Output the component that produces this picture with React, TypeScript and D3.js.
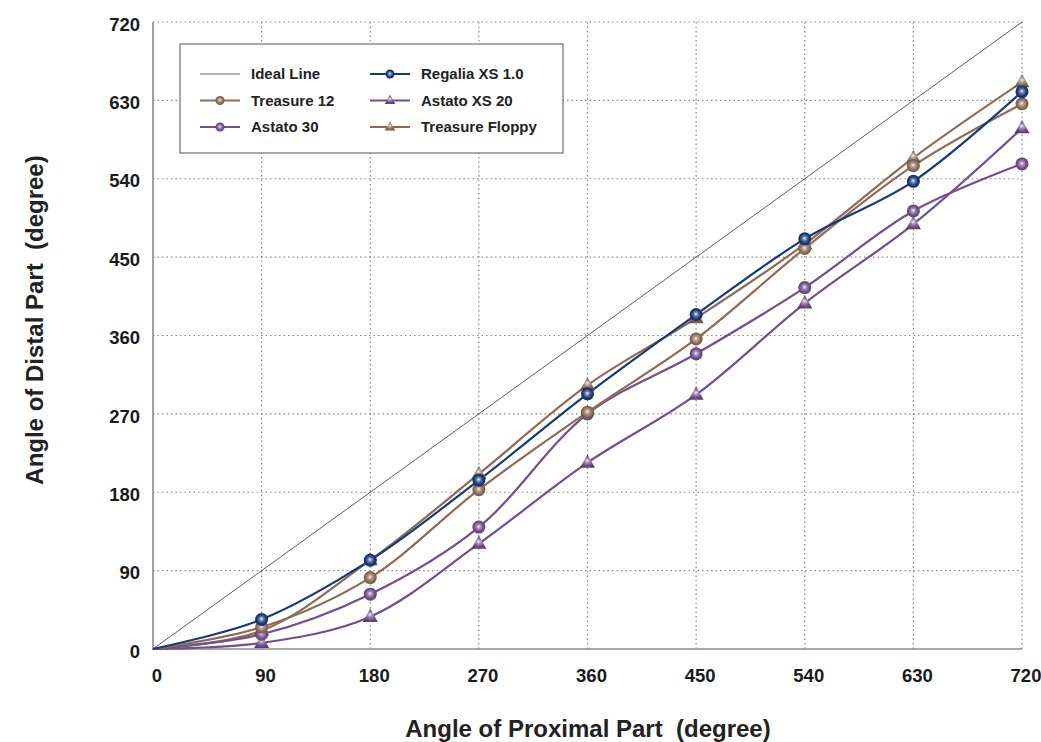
import React from "react";
import * as d3 from "d3";

const xTicks = [0, 90, 180, 270, 360, 450, 540, 630, 720];
const yTicks = [0, 90, 180, 270, 360, 450, 540, 630, 720];
const proximal = [0, 90, 180, 270, 360, 450, 540, 630, 720];

const idealLine = [0, 720];
const regalia = [0, 34, 102, 194, 293, 384, 471, 537, 640];
const treasure12 = [0, 25, 82, 183, 272, 356, 460, 555, 626];
const astato30 = [0, 17, 63, 140, 270, 339, 415, 503, 557];
const astatoXS20 = [0, 7, 37, 121, 214, 292, 397, 488, 598];
const treasureFloppy = [0, 21, 102, 201, 303, 380, 465, 564, 651];

const NAVY = "#17397a";
const BROWN = "#8d6c56";
const PURPLE = "#71508b";

type S = { name: string; values: number[]; color: string; marker: "circle" | "triangle"; grad: string };
const series: S[] = [
  { name: "Treasure Floppy", values: treasureFloppy, color: BROWN, marker: "triangle", grad: "gBrown" },
  { name: "Astato XS 20", values: astatoXS20, color: PURPLE, marker: "triangle", grad: "gPurple" },
  { name: "Astato 30", values: astato30, color: PURPLE, marker: "circle", grad: "gPurple" },
  { name: "Treasure 12", values: treasure12, color: BROWN, marker: "circle", grad: "gBrown" },
  { name: "Regalia XS 1.0", values: regalia, color: NAVY, marker: "circle", grad: "gNavy" },
];

const legendItems: { name: string; color: string; marker: "none" | "circle" | "triangle"; grad: string }[] = [
  { name: "Ideal Line", color: "#333", marker: "none", grad: "" },
  { name: "Treasure 12", color: BROWN, marker: "circle", grad: "gBrown" },
  { name: "Astato 30", color: PURPLE, marker: "circle", grad: "gPurple" },
  { name: "Regalia XS 1.0", color: NAVY, marker: "circle", grad: "gNavy" },
  { name: "Astato XS 20", color: PURPLE, marker: "triangle", grad: "gPurple" },
  { name: "Treasure Floppy", color: BROWN, marker: "triangle", grad: "gBrown" },
];

const W = 1041, H = 742;
const font = "'Liberation Sans', Arial, Helvetica, sans-serif";

function Marker({ x, y, kind, grad, r = 6.5 }: { x: number; y: number; kind: string; grad: string; r?: number }) {
  if (kind === "circle") return <circle cx={x} cy={y} r={r} fill={`url(#${grad})`} />;
  if (kind === "triangle") {
    const s = r * 1.05;
    const p = `${x},${y - s * 1.2} ${x + s * 1.1},${y + s * 0.75} ${x - s * 1.1},${y + s * 0.75}`;
    return <polygon points={p} fill={`url(#${grad})`} />;
  }
  return null;
}

export default function App() {
  const x = d3.scaleLinear().domain([0, 720]).range([153, 1022]);
  const y = d3.scaleLinear().domain([0, 720]).range([649, 22]);
  const line = d3
    .line<number>()
    .x((_, i) => x(proximal[i]))
    .y((d) => y(d))
    .curve(d3.curveCatmullRom.alpha(0.5));

  const grads = [
    { id: "gNavy", c: NAVY },
    { id: "gBrown", c: BROWN },
    { id: "gPurple", c: PURPLE },
  ];

  return (
    <svg width={W} height={H} style={{ position: "absolute", left: 0, top: 0 }} fontFamily={font}>
      <defs>
        {grads.map((g) => (
          <radialGradient key={g.id} id={g.id} cx="50%" cy="50%" r="55%" fx="48%" fy="45%">
            <stop offset="0%" stopColor="#f4eef6" />
            <stop offset="30%" stopColor={d3.interpolateRgb(g.c, "#fff")(0.35)} />
            <stop offset="65%" stopColor={g.c} />
            <stop offset="100%" stopColor={d3.color(g.c)!.darker(0.8).toString()} />
          </radialGradient>
        ))}
      </defs>
      <rect width={W} height={H} fill="#fff" />
      {/* grid */}
      {xTicks.slice(1).map((t) => (
        <line key={"gx" + t} x1={x(t)} x2={x(t)} y1={y(0)} y2={y(720)} stroke="#888" strokeWidth={1.2} strokeDasharray="1.5,3" />
      ))}
      {yTicks.slice(1).map((t) => (
        <line key={"gy" + t} x1={x(0)} x2={x(720)} y1={y(t)} y2={y(t)} stroke="#888" strokeWidth={1.2} strokeDasharray="1.5,3" />
      ))}
      {/* axes */}
      <line x1={x(0)} x2={x(0)} y1={y(0) + 1} y2={y(720)} stroke="#8a8a8a" strokeWidth={1.6} />
      <line x1={x(0)} x2={x(720)} y1={y(0)} y2={y(0)} stroke="#8a8a8a" strokeWidth={1.6} />
      {/* tick labels */}
      {yTicks.map((t) => (
        <text key={"yt" + t} x={140} y={y(t) + 2} dy="0.36em" textAnchor="end" fontSize={18.5} fontWeight="bold" fill="#1a1a1a">
          {t}
        </text>
      ))}
      {xTicks.map((t) => (
        <text key={"xt" + t} x={x(t) + 4} y={682} textAnchor="middle" fontSize={18.5} fontWeight="bold" fill="#1a1a1a">
          {t}
        </text>
      ))}
      {/* axis titles */}
      <text x={588} y={737} textAnchor="middle" fontSize={24} fontWeight="bold" fill="#222">
        Angle of Proximal Part{"\u00a0\u00a0"}(degree)
      </text>
      <text transform={`translate(43,320) rotate(-90)`} textAnchor="middle" fontSize={24} fontWeight="bold" fill="#222">
        Angle of Distal Part{"\u00a0\u00a0"}(degree)
      </text>
      {/* ideal line */}
      <line x1={x(idealLine[0])} y1={y(idealLine[0])} x2={x(idealLine[1])} y2={y(idealLine[1])} stroke="#333" strokeWidth={0.8} />
      {/* series */}
      {series.map((s) => (
        <path key={s.name} d={line(s.values) || ""} fill="none" stroke={s.color} strokeWidth={2.2} />
      ))}
      {series.map((s) =>
        s.values.map((v, i) =>
          i === 0 ? null : <Marker key={s.name + i} x={x(proximal[i])} y={y(v)} kind={s.marker} grad={s.grad} />
        )
      )}
      {/* legend */}
      <rect x={180} y={44} width={383} height={109} fill="#fff" stroke="#555" strokeWidth={1} />
      {legendItems.map((it, i) => {
        const col = Math.floor(i / 3);
        const row = i % 3;
        const lx = col === 0 ? 200 : 370;
        const ly = 74 + row * 26.5;
        return (
          <g key={it.name}>
            <line x1={lx} x2={lx + 40} y1={ly} y2={ly} stroke={it.color} strokeWidth={it.marker === "none" ? 0.8 : 2.2} />
            {it.marker !== "none" && <Marker x={lx + 20} y={ly} kind={it.marker} grad={it.grad} r={4.5} />}
            <text x={lx + 51} y={ly} dy="0.36em" fontSize={15} fontWeight="bold" fill="#222">
              {it.name}
            </text>
          </g>
        );
      })}
    </svg>
  );
}
